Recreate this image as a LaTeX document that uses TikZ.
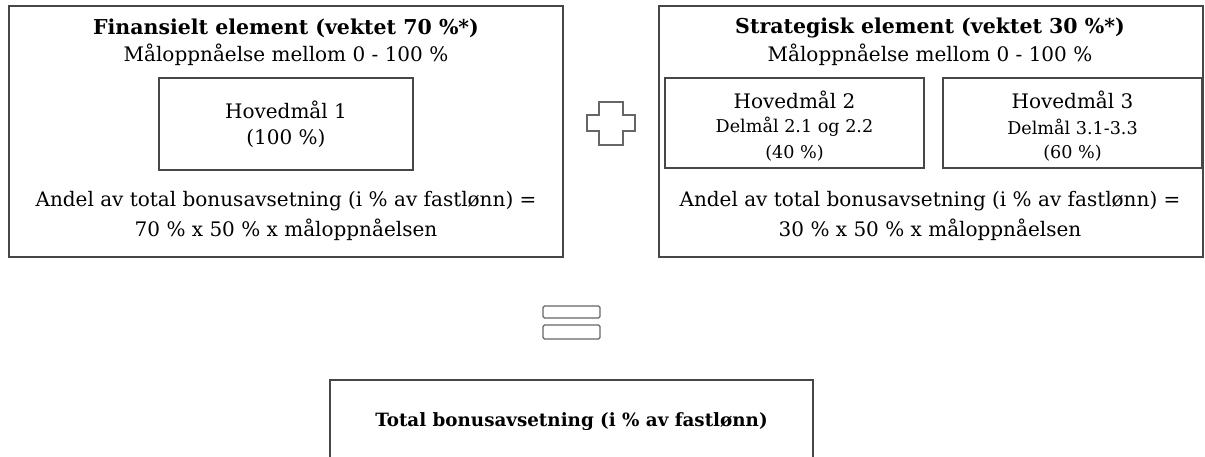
\documentclass[tikz,border=0pt]{standalone}
\usepackage{fontspec}
\setmainfont{DejaVu Serif}
\begin{document}
\begin{tikzpicture}[x=1pt,y=-1pt,
  box/.style={draw=black!72, line width=1.3pt, inner sep=0pt},
  txt/.style={inner sep=0pt, font=\fontsize{20}{23}\selectfont, text=black},
  ttl/.style={inner sep=0pt, font=\fontsize{20.5}{23}\selectfont\bfseries, text=black},
  btl/.style={inner sep=0pt, font=\fontsize{18.3}{21}\selectfont\bfseries, text=black},
  sml/.style={inner sep=0pt, font=\fontsize{17.6}{20}\selectfont, text=black},
  sym/.style={draw=black!60, line width=1.1pt, fill=white}]
\useasboundingbox (0,0) rectangle (1205,457);
\clip (0,0) rectangle (1205,457);
% outer boxes
\node[box, minimum width=554pt, minimum height=251pt] (fin) at (286,131.5) {};
\node[box, minimum width=544pt, minimum height=251pt] (str) at (931,131.5) {};
% left contents
\node[ttl] (finT) at (286,28) {Finansielt element (vektet 70 \%*)};
\node[txt] (finM) at (286,55) {Måloppnåelse mellom 0 - 100 \%};
\node[box, minimum width=254pt, minimum height=92pt] (h1) at (286,124) {};
\node[txt] (h1a) at (286,110) {Hovedmål 1};
\node[txt] (h1b) at (286,138) {(100 \%)};
\node[txt] (finA) at (286,201) {Andel av total bonusavsetning (i \% av fastlønn) =};
\node[txt] (finB) at (286,230) {70 \% x 50 \% x måloppnåelsen};
% right contents
\node[ttl] (strT) at (930,28) {Strategisk element (vektet 30 \%*)};
\node[txt] (strM) at (930,55) {Måloppnåelse mellom 0 - 100 \%};
\node[box, minimum width=259pt, minimum height=90pt] (h2) at (794.5,123) {};
\node[txt] (h2a) at (794.5,100) {Hovedmål 2};
\node[sml] (h2b) at (794.5,127) {Delmål 2.1 og 2.2};
\node[sml] (h2c) at (794.5,153) {(40 \%)};
\node[box, minimum width=259pt, minimum height=90pt] (h3) at (1072.5,123) {};
\node[txt] (h3a) at (1072.5,100) {Hovedmål 3};
\node[sml] (h3b) at (1072.5,127) {Delmål 3.1-3.3};
\node[sml] (h3c) at (1072.5,153) {(60 \%)};
\node[txt] (strA) at (930,201) {Andel av total bonusavsetning (i \% av fastlønn) =};
\node[txt] (strB) at (930,230) {30 \% x 50 \% x måloppnåelsen};
% plus sign
\draw[sym] (599,102) -- (623,102) -- (623,115) -- (635,115) -- (635,131) -- (623,131) -- (623,145) -- (599,145) -- (599,131) -- (587,131) -- (587,115) -- (599,115) -- cycle;
% equals sign
\draw[sym, rounded corners=1.5pt] (543,306) rectangle (600,318);
\draw[sym, rounded corners=1.5pt] (543,325) rectangle (600,339);
% bottom box
\node[box, minimum width=483pt, minimum height=120pt] (tot) at (571.5,440) {};
\node[btl] (totT) at (571.5,422) {Total bonusavsetning (i \% av fastlønn)};
\end{tikzpicture}
\end{document}
